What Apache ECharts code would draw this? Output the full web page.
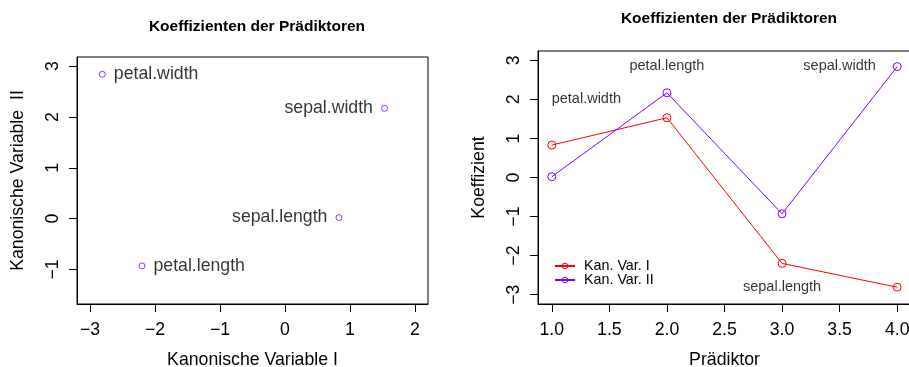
<!DOCTYPE html>
<html>
<head>
<meta charset="utf-8">
<script src="https://cdn.jsdelivr.net/npm/echarts@6/dist/echarts.min.js"></script>
<style>
  html, body { margin: 0; padding: 0; background: #fff; }
  #chart { width: 909px; height: 367px; }
</style>
</head>
<body>
<div id="chart"></div>
<script>
// Coefficients of the four predictors on the two canonical variables
const predictors = ['sepal.length', 'sepal.width', 'petal.length', 'petal.width'];
const predictorIndex = [1, 2, 3, 4];
const kanVarI = [0.83, 1.53, -2.2, -2.81];
const kanVarII = [0.02, 2.17, -0.93, 2.84];

// Text annotations inside the line chart
const noteText = ['petal.width', 'petal.length', 'sepal.width', 'sepal.length'];
const noteX = [1.3, 2, 3.5, 3];
const noteY = [2, 2.85, 2.85, -2.8];

// Tick values
const scatterXTicks = [-3, -2, -1, 0, 1, 2];
const scatterYTicks = [-1, 0, 1, 2, 3];
const lineXTicks = [1, 1.5, 2, 2.5, 3, 3.5, 4];
const lineYTicks = [-3, -2, -1, 0, 1, 2, 3];

const FONT = '"Liberation Sans", Arial, Helvetica, sans-serif';
const RED = '#FF0000';
const PURPLE = '#8000FF';
const NONE = 'rgba(0,0,0,0)';
const minus = s => String(s).replace('-', '\u2212');

function axis(gridIndex, min, max, ticks, fmt, name, nameGap, isY) {
  return {
    type: 'value',
    gridIndex: gridIndex,
    min: min,
    max: max,
    name: name,
    nameLocation: 'middle',
    nameGap: nameGap,
    nameTextStyle: { fontFamily: FONT, fontSize: 17.7, color: '#000' },
    splitLine: { show: false },
    axisLine: { show: true, onZero: false, lineStyle: { color: '#000', width: 1 } },
    axisTick: { show: true, length: 8, customValues: ticks, lineStyle: { color: '#000', width: 1 } },
    axisLabel: {
      customValues: ticks,
      formatter: v => minus(fmt(v)),
      fontFamily: FONT,
      fontSize: 17.7,
      color: '#000',
      margin: isY ? 15 : 17,
      rotate: isY ? 90 : 0
    }
  };
}

const chart = echarts.init(document.getElementById('chart'), null, { renderer: 'canvas' });

const scatterData = predictors.map((p, i) => ({
  name: p,
  value: [kanVarI[i], kanVarII[i]],
  label: { position: kanVarI[i] > 0 ? 'left' : 'right' }
}));

const titleStyle = { fontFamily: FONT, fontSize: 15.5, fontWeight: 'bold', color: '#000' };
const gridBase = { show: true, borderColor: '#000', borderWidth: 1, backgroundColor: NONE, containLabel: false, outerBoundsMode: 'none' };

chart.setOption({
  animation: false,
  backgroundColor: '#fff',
  textStyle: { fontFamily: FONT },
  title: [
    { text: 'Koeffizienten der Prädiktoren', left: 252, top: 14, textAlign: 'center', textStyle: titleStyle },
    { text: 'Koeffizienten der Prädiktoren', left: 724, top: 6, textAlign: 'center', textStyle: titleStyle }
  ],
  grid: [
    Object.assign({ left: 77, top: 57, width: 351, height: 247 }, gridBase),
    Object.assign({ left: 538, top: 51, width: 373, height: 253 }, gridBase)
  ],
  xAxis: [
    axis(0, -3.2, 2.2, scatterXTicks, v => String(v), 'Kanonische Variable I', 47, false),
    axis(1, 0.88, 4.12, lineXTicks, v => v.toFixed(1), 'Prädiktor', 47, false)
  ],
  yAxis: [
    axis(0, -1.68, 3.18, scatterYTicks, v => String(v), 'Kanonische Variable  II', 50, true),
    axis(1, -3.24, 3.24, lineYTicks, v => String(v), 'Koeffizient', 50, true)
  ],
  legend: {
    data: ['Kan. Var. I', 'Kan. Var. II'],
    orient: 'vertical',
    left: 554,
    top: 259,
    padding: 0,
    itemWidth: 20,
    itemHeight: 7,
    itemGap: 0,
    itemStyle: { color: NONE, borderColor: 'inherit', borderWidth: 1 },
    textStyle: { fontFamily: FONT, fontSize: 14.3, color: '#000', lineHeight: 13.4, padding: [0, 0, 0, 4] }
  },
  series: [
    {
      type: 'scatter',
      name: 'Koeffizienten',
      xAxisIndex: 0, yAxisIndex: 0,
      symbol: 'circle',
      symbolSize: 6,
      itemStyle: { color: NONE, borderColor: PURPLE, borderWidth: 1 },
      label: {
        show: true,
        formatter: p => p.name,
        distance: 8,
        fontFamily: FONT,
        fontSize: 17.7,
        color: '#000'
      },
      data: scatterData,
      silent: true
    },
    {
      type: 'line',
      name: 'Kan. Var. I',
      xAxisIndex: 1, yAxisIndex: 1,
      symbol: 'circle',
      symbolSize: 8,
      lineStyle: { color: RED, width: 1 },
      itemStyle: { color: NONE, borderColor: RED, borderWidth: 1 },
      data: predictorIndex.map((x, i) => [x, kanVarI[i]])
    },
    {
      type: 'line',
      name: 'Kan. Var. II',
      xAxisIndex: 1, yAxisIndex: 1,
      symbol: 'circle',
      symbolSize: 8,
      lineStyle: { color: PURPLE, width: 1 },
      itemStyle: { color: NONE, borderColor: PURPLE, borderWidth: 1 },
      data: predictorIndex.map((x, i) => [x, kanVarII[i]])
    },
    {
      type: 'scatter',
      name: 'Hinweise',
      xAxisIndex: 1, yAxisIndex: 1,
      symbolSize: 0,
      silent: true,
      label: {
        show: true,
        position: 'inside',
        formatter: p => p.name,
        fontFamily: FONT,
        fontSize: 14.5,
        color: '#000'
      },
      data: noteText.map((t, i) => ({ name: t, value: [noteX[i], noteY[i]] }))
    }
  ]
});
</script>
</body>
</html>
